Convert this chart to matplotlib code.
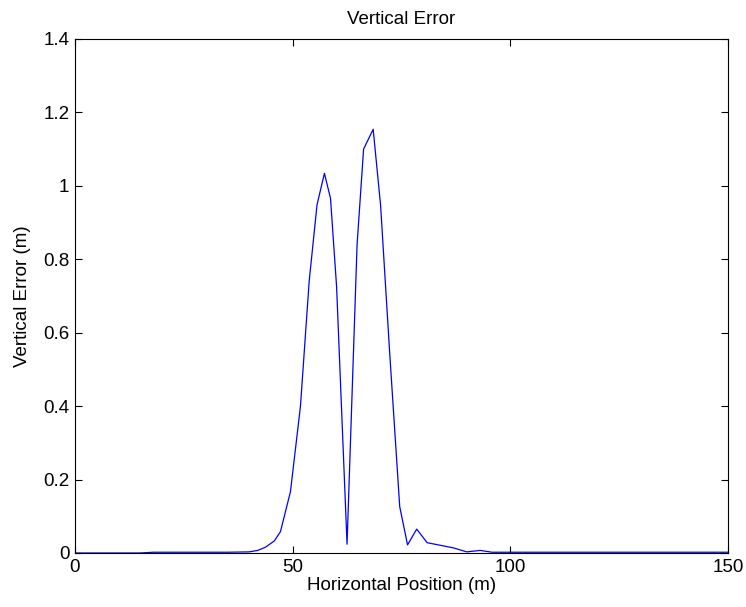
import matplotlib

matplotlib.use("Agg")
import matplotlib.pyplot as plt

# horizontal position (m) and vertical error (m)
pos = [0, 15, 18, 25, 30, 35, 40, 42, 43.8, 45.8, 47.2, 49.5, 51.8, 53.8, 55.6,
       57.3, 58.7, 60.1, 62.5, 64.8, 66.3, 68.5, 70.2, 72.3, 74.6, 76.4, 78.5,
       80.9, 86.9, 90.0, 93.1, 95.8, 100, 150]
err = [0.0, 0.0, 0.002, 0.002, 0.002, 0.002, 0.003, 0.007, 0.016, 0.033, 0.058,
       0.167, 0.40, 0.74, 0.948, 1.034, 0.966, 0.725, 0.024, 0.839, 1.10, 1.154,
       0.948, 0.544, 0.126, 0.022, 0.065, 0.028, 0.014, 0.003, 0.007, 0.002,
       0.002, 0.002]

plt.rcParams["font.family"] = ["Liberation Sans", "DejaVu Sans"]
FS = 13.5

fig = plt.figure(figsize=(7.46, 6.07), dpi=100)
ax = fig.add_axes([0.1005, 0.089, 0.8753, 0.8468])
ax.plot(pos, err, color="#0000ff", linewidth=0.9)
ax.set_xlim(0, 150)
ax.set_ylim(0, 1.4)
ax.set_xticks([0, 50, 100, 150])
ax.set_yticks([0, 0.2, 0.4, 0.6, 0.8, 1.0, 1.2, 1.4])
ax.set_yticklabels(["0", "0.2", "0.4", "0.6", "0.8", "1", "1.2", "1.4"])
ax.tick_params(direction="in", top=True, right=True, labelsize=FS,
               length=5, width=0.8, pad=4)
ax.set_xlabel("Horizontal Position (m)", fontsize=FS, labelpad=1)
ax.set_ylabel("Vertical Error (m)", fontsize=FS, labelpad=9)
ax.set_title("Vertical Error", fontsize=FS, pad=11)
for s in ax.spines.values():
    s.set_linewidth(0.8)

fig.savefig("out.png")
